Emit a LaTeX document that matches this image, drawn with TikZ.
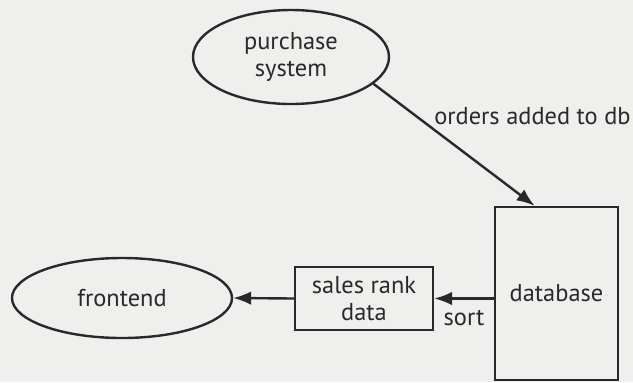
\documentclass[tikz,border=0pt]{standalone}
\usepackage{fontspec}
\setmainfont{PT Sans}
\usepackage{tikz}
\usetikzlibrary{arrows.meta,shapes.geometric}
\definecolor{paper}{RGB}{239,239,237}
\definecolor{ink}{RGB}{42,40,40}
\tikzset{every node/.append style={font=\fontsize{12.2}{13.2}\selectfont,text=ink,align=center}}

\begin{document}
\begin{tikzpicture}[x=0.5pt,y=-0.5pt,line width=1.2pt,
  flow/.style={draw=ink,-{Latex[length=9pt,width=6.8pt]}},
  proc/.style={draw=ink,ellipse,inner sep=0pt},
  store/.style={draw=ink,rectangle,inner sep=0pt}]
\fill[paper] (0,0) rectangle (633,382);
\useasboundingbox (0,0) rectangle (633,382);
\node[proc,minimum width=98pt,minimum height=47pt] (purchase) at (291,57) {purchase\\system};
\node[store,minimum width=61.5pt,minimum height=86.5pt] (db) at (556.5,293.5) {database};
\node[store,minimum width=69pt,minimum height=31.5pt] (rank) at (364,298.5) {sales rank\\data};
\node[proc,minimum width=110pt,minimum height=40pt] (frontend) at (122,298) {frontend};
\draw[flow] (purchase.-18) -- (db.104) node[pos=0.37,anchor=base west,inner sep=0pt,yshift=2pt] {orders added to db};
\draw[flow] (db.west |- rank.east) -- (rank.east) node[midway,below,yshift=-2pt] {sort};
\draw[flow] (rank.west) -- (frontend.east);
\end{tikzpicture}
\end{document}
